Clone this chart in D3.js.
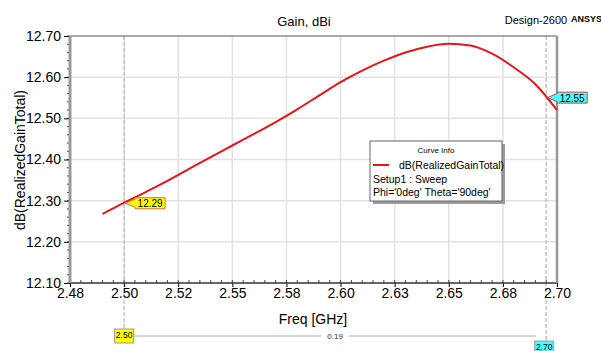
<!DOCTYPE html>
<html>
<head>
<meta charset="utf-8">
<script src="https://cdn.jsdelivr.net/npm/d3@7"></script>
<style>
  body { margin: 0; background: #fff; }
  text { font-family: "Liberation Sans", Arial, sans-serif; }
</style>
</head>
<body>
<div id="chart-area"></div>
<script>
let width = 601,
    height = 351;

// sweep data
const freqs = [2.49, 2.50, 2.51, 2.52, 2.53, 2.54, 2.55, 2.56, 2.57, 2.58, 2.59,
               2.60, 2.61, 2.62, 2.63, 2.64, 2.65, 2.66, 2.67, 2.68, 2.69, 2.70];
const gain = [12.268, 12.295, 12.321, 12.348, 12.377, 12.406, 12.434, 12.462, 12.491, 12.522, 12.555,
              12.588, 12.616, 12.640, 12.660, 12.674, 12.681, 12.677, 12.657, 12.624, 12.583, 12.520];

// axes
const xTickValues = [2.475, 2.50, 2.525, 2.55, 2.575, 2.60, 2.625, 2.65, 2.675, 2.70];
const xTickLabels = ["2.48", "2.50", "2.52", "2.55", "2.58", "2.60", "2.63", "2.65", "2.68", "2.70"];
const yTickValues = [12.10, 12.20, 12.30, 12.40, 12.50, 12.60, 12.70];

// markers
const markerFreqs = [2.50, 2.695];
const markerGainLabels = ["12.29", "12.55"];
const markerFreqLabels = ["2.50", "2.70"];
const deltaLabel = "0.19";

const legendLines = ["Setup1 : Sweep", "Phi='0deg' Theta='90deg'"];

let margin = {left: 70, right: 44, top: 36, bottom: 68};
let pw = width - margin.left - margin.right,
    ph = height - margin.top - margin.bottom;

let svg = d3.select("#chart-area")
    .append("svg")
    .attr("width", width)
    .attr("height", height);

let x = d3.scaleLinear().domain([2.475, 2.70]).range([margin.left, margin.left + pw]);
let y = d3.scaleLinear().domain([12.10, 12.70]).range([margin.top + ph, margin.top]);

//title stuff
svg.append("text")
    .attr("x", 304).attr("y", 26)
    .attr("text-anchor", "middle")
    .style("font-size", "13px")
    .text("Gain, dBi");
svg.append("text")
    .attr("x", 536).attr("y", 24)
    .attr("text-anchor", "middle")
    .style("font-size", "11px")
    .text("Design-2600");
svg.append("text")
    .attr("x", 571).attr("y", 22)
    .style("font-size", "9px")
    .style("font-weight", "bold")
    .text("ANSYS");

//grid
let grid = svg.append("g");
grid.selectAll(".gx").data(xTickValues.slice(1, -1)).enter()
    .append("line")
    .attr("x1", d => x(d)).attr("x2", d => x(d))
    .attr("y1", margin.top).attr("y2", margin.top + ph)
    .style("stroke", "#e2e2e2").style("stroke-width", 1.5);
grid.selectAll(".gy").data(yTickValues.slice(1, -1)).enter()
    .append("line")
    .attr("x1", margin.left).attr("x2", margin.left + pw)
    .attr("y1", d => y(d)).attr("y2", d => y(d))
    .style("stroke", "#e2e2e2").style("stroke-width", 1.5);

//marker dashed lines
svg.selectAll(".mline").data(markerFreqs).enter()
    .append("line")
    .attr("x1", d => x(d)).attr("x2", d => x(d))
    .attr("y1", margin.top).attr("y2", (d, i) => i == 0 ? 330 : 342)
    .style("stroke", "#c4c4c4")
    .style("stroke-width", 1.5)
    .style("stroke-dasharray", "4,2");

//minor ticks
let yMinor = d3.range(12.10, 12.70001, 0.02);
svg.selectAll(".ymin").data(yMinor).enter()
    .append("line")
    .attr("x1", margin.left - 3).attr("x2", margin.left)
    .attr("y1", d => y(d)).attr("y2", d => y(d))
    .style("stroke", "#444");
let xMinor = d3.range(2.475, 2.70001, 0.005);
svg.selectAll(".xmin").data(xMinor).enter()
    .append("line")
    .attr("x1", d => x(d)).attr("x2", d => x(d))
    .attr("y1", margin.top + ph - 3).attr("y2", margin.top + ph)
    .style("stroke", "#444");

// axes using d3
let yAxis = d3.axisLeft(y)
    .tickValues(yTickValues)
    .tickFormat(d3.format(".2f"))
    .tickSize(6)
    .tickSizeOuter(0);
let gy = svg.append("g")
    .attr("transform", "translate(" + margin.left + ",0)")
    .call(yAxis);
gy.select(".domain").remove();
gy.selectAll("text").style("font-size", "14px").attr("fill", "#000");

let xAxis = d3.axisBottom(x)
    .tickValues(xTickValues)
    .tickFormat((d, i) => xTickLabels[i])
    .tickSize(4)
    .tickSizeOuter(0);
let gx = svg.append("g")
    .attr("transform", "translate(0," + (margin.top + ph) + ")")
    .call(xAxis);
gx.select(".domain").remove();
gx.selectAll("text").style("font-size", "14px").attr("fill", "#000").attr("dy", "0.55em");

// frame
svg.append("line")
    .attr("x1", margin.left).attr("x2", margin.left + pw)
    .attr("y1", margin.top).attr("y2", margin.top)
    .style("stroke", "#555");
svg.append("line")
    .attr("x1", margin.left).attr("x2", margin.left + pw)
    .attr("y1", margin.top + ph).attr("y2", margin.top + ph)
    .style("stroke", "#333").style("stroke-width", 1.5);
svg.append("line")
    .attr("x1", margin.left).attr("x2", margin.left)
    .attr("y1", margin.top).attr("y2", margin.top + ph)
    .style("stroke", "#999").style("stroke-width", 3);
svg.append("line")
    .attr("x1", margin.left + pw).attr("x2", margin.left + pw)
    .attr("y1", margin.top).attr("y2", margin.top + ph)
    .style("stroke", "#999").style("stroke-width", 2.5);

//axis titles
svg.append("text")
    .attr("x", 313).attr("y", 324)
    .attr("text-anchor", "middle")
    .style("font-size", "14px")
    .text("Freq [GHz]");
svg.append("text")
    .attr("transform", "translate(25,160) rotate(-90)")
    .attr("text-anchor", "middle")
    .style("font-size", "14px")
    .text("dB(RealizedGainTotal)");

//curve
let line = d3.line()
    .x((d, i) => x(freqs[i]))
    .y(d => y(d))
    .curve(d3.curveMonotoneX);
svg.append("path")
    .datum(gain)
    .attr("d", line)
    .style("fill", "none")
    .style("stroke", "#e8141b")
    .style("stroke-width", 2);

//legend
let leg = svg.append("g").attr("transform", "translate(370,141)");
leg.append("rect").attr("x", 3).attr("y", 3).attr("width", 132).attr("height", 60).style("fill", "#9a9a9a");
leg.append("rect").attr("x", 0).attr("y", 0).attr("width", 132).attr("height", 60)
    .style("fill", "#fff").style("stroke", "#666");
leg.append("text").attr("x", 66).attr("y", 12).attr("text-anchor", "middle")
    .style("font-size", "8px").text("Curve Info");
leg.append("line").attr("x1", 3).attr("x2", 19).attr("y1", 24).attr("y2", 24)
    .style("stroke", "#e8141b").style("stroke-width", 2);
leg.append("text").attr("x", 29).attr("y", 28).style("font-size", "10.5px").text("dB(RealizedGainTotal)");
leg.selectAll(".ll").data(legendLines).enter()
    .append("text")
    .attr("x", 3).attr("y", (d, i) => 42 + i * 13)
    .style("font-size", "10.5px")
    .text(d => d);

//marker value boxes
const markerFills = ["#ffff00", "#44ffff"];
const markerStrokes = ["#e07030", "#d04040"];
function interpGain(f) {
    let i = d3.bisectLeft(freqs, f);
    if (freqs[i] === f) return gain[i];
    let t = (f - freqs[i - 1]) / (freqs[i] - freqs[i - 1]);
    return gain[i - 1] + t * (gain[i] - gain[i - 1]);
}
markerFreqs.forEach(function(f, i) {
    let tx = x(f) + 1, ty = y(interpGain(f)) + 0.5;
    let bx = tx + 10, bw = 30, bh = 11;
    let pts = [[tx, ty], [bx, ty - 4], [bx, ty - bh / 2], [bx + bw, ty - bh / 2],
               [bx + bw, ty + bh / 2], [bx, ty + bh / 2], [bx, ty + 4]];
    svg.append("polygon")
        .attr("points", pts.map(p => p.join(",")).join(" "))
        .style("fill", markerFills[i])
        .style("stroke", markerStrokes[i]);
    svg.append("text")
        .attr("x", bx + bw / 2).attr("y", ty + 4)
        .attr("text-anchor", "middle")
        .style("font-size", "10px")
        .text(markerGainLabels[i]);
});

//bottom delta markers
let dY = 336;
svg.append("line")
    .attr("x1", x(markerFreqs[0]) + 10).attr("x2", x(markerFreqs[1]) - 10)
    .attr("y1", dY).attr("y2", dY)
    .style("stroke", "#aaa");
let mid = (x(markerFreqs[0]) + x(markerFreqs[1])) / 2;
svg.append("rect").attr("x", mid - 14).attr("y", dY - 5).attr("width", 28).attr("height", 10).style("fill", "#fff");
svg.append("text").attr("x", mid).attr("y", dY + 3).attr("text-anchor", "middle")
    .style("font-size", "8px").style("fill", "#333").text(deltaLabel);

const boxTops = [329, 341];
markerFreqs.forEach(function(f, i) {
    let cx = x(f) - (i == 0 ? 0 : 2);
    svg.append("rect")
        .attr("x", cx - 9.5).attr("y", boxTops[i])
        .attr("width", 19).attr("height", 14)
        .style("fill", markerFills[i])
        .style("stroke", "#999");
    svg.append("text")
        .attr("x", cx).attr("y", boxTops[i] + 9)
        .attr("text-anchor", "middle")
        .style("font-size", "8.5px")
        .text(markerFreqLabels[i]);
});
</script>
</body>
</html>
